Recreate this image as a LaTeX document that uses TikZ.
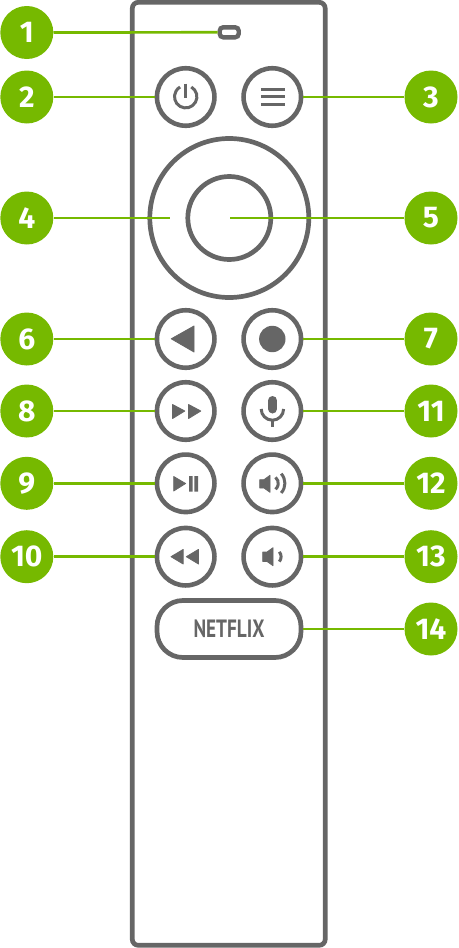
\documentclass[tikz,border=0pt]{standalone}
\usepackage{fontspec}
\setmainfont{Fira Sans}
\newfontfamily\netflixfont{PT Sans}
\usetikzlibrary{positioning,calc}
\definecolor{leafgreen}{RGB}{118,185,0}
\definecolor{shellgray}{RGB}{102,102,102}
\tikzset{
  callout/.style={circle,fill=leafgreen,text=white,minimum size=53pt,inner sep=0pt,font=\fontsize{30}{30}\selectfont\bfseries},
  keybtn/.style={circle,draw=shellgray,line width=4.6pt,minimum size=57.5pt,inner sep=0pt},
  leader/.style={leafgreen,line width=2.7pt},
  shell/.style={draw=shellgray,line width=4.7pt},
  glyph/.style={fill=shellgray,draw=shellgray,line width=0.8pt,line join=round},
  stroke/.style={draw=shellgray,line width=3pt}
}
\begin{document}
\begin{tikzpicture}[x=1pt,y=1pt]
\useasboundingbox (0,0) rectangle (458,-948);
\draw[shell,rounded corners=6pt] (132.3,-2.3) rectangle (325.2,-945.3);
\node[draw=shellgray,line width=4.4pt,rounded corners=3.5pt,minimum width=19pt,minimum height=10pt,inner sep=0pt] (led) at (229.2,-32.3) {};
\node[circle,shell,minimum size=159pt,inner sep=0pt] (ring) at (229.3,-218) {};
\node[circle,shell,minimum size=83pt,inner sep=0pt] (okkey) at (229.3,-218) {};
\foreach \name/\x/\y in {power/185.7/-97,menu/272.3/-97,back/185.7/-339,home/272.3/-339,forward/185.7/-411,mic/272.3/-411,play/185.7/-483.3,volup/272.3/-483.3,rewind/185.7/-556.7,voldown/272.3/-556.7}{
  \node[keybtn] (\name) at (\x,\y) {};
}
\node[draw=shellgray,line width=4.7pt,rounded corners=26pt,minimum width=144pt,minimum height=57pt,inner sep=0pt] (netflix) at (229,-629) {};
\node[text=shellgray,font=\netflixfont\fontsize{25}{25}\selectfont\bfseries,xscale=.77] (netflixtext) at (229,-629) {NETFLIX};
\coordinate (ringend) at (170,-218);
\coordinate (okend) at (230,-218);
\foreach \num/\y/\target in {1/-32.5/led,2/-97/power,4/-218/ringend,6/-339/back,8/-411/forward,9/-483.3/play,10/-556.7/rewind}{
  \node[callout] (n\num) at (26.8,\y) {\num};
  \draw[leader] (n\num) -- (\target);
}
\foreach \num/\y/\target in {3/-97/menu,5/-218/okend,7/-339/home,11/-411/mic,12/-483.3/volup,13/-556.7/voldown,14/-629/netflix}{
  \node[callout] (n\num) at (431,\y) {\num};
  \draw[leader] (n\num) -- (\target);
}
\draw[stroke] (185.7,-83.5) -- (185.7,-98);
\draw[stroke] (185.7,-96.7) ++(60:11.2) arc (60:-240:11.2);
\foreach \y in {-89.5,-96.8,-104}{\draw[stroke] (260.8,\y) -- (285,\y);}
\draw[glyph] (171.2,-338.8) -- (194,-326) -- (194,-352) -- cycle;
\fill[shellgray] (272.3,-339) circle (13.2);
\foreach \x in {172.6,188.6}{\draw[glyph] (\x,-404.5) -- ++(12.2,-6.5) -- (\x,-418.5) -- cycle;}
\draw[shellgray,line width=9pt,line cap=round] (272.6,-400.5) -- (272.6,-409);
\draw[stroke] (261.2,-409) arc (180:360:11.2);
\draw[stroke] (272.5,-420) -- (272.5,-426.7);
\draw[glyph] (173.7,-476.5) -- (185.6,-483.5) -- (173.7,-491) -- cycle;
\fill[shellgray] (189,-476) rectangle (192.6,-491.6) (194.4,-476) rectangle (198,-491.6);
\draw[glyph] (259.7,-479.7) -- (264,-479.7) -- (270,-475.3) -- (270,-492.3) -- (264,-488) -- (259.7,-488) -- cycle;
\draw[stroke] (270.5,-483.3) ++(50:7.8) arc (50:-50:7.8);
\draw[stroke] (270.5,-483.3) ++(42:14.4) arc (42:-42:14.4);
\foreach \x in {171,186.3}{\draw[glyph] (\x,-556.7) -- ++(12.2,7.3) -- ++(0,-14.6) -- cycle;}
\draw[glyph] (262.7,-552) -- (267,-552) -- (273,-547.7) -- (273,-565.7) -- (267,-561.4) -- (262.7,-561.4) -- cycle;
\draw[stroke] (273.5,-556.7) ++(40:7.6) arc (40:-40:7.6);
\end{tikzpicture}
\end{document}
